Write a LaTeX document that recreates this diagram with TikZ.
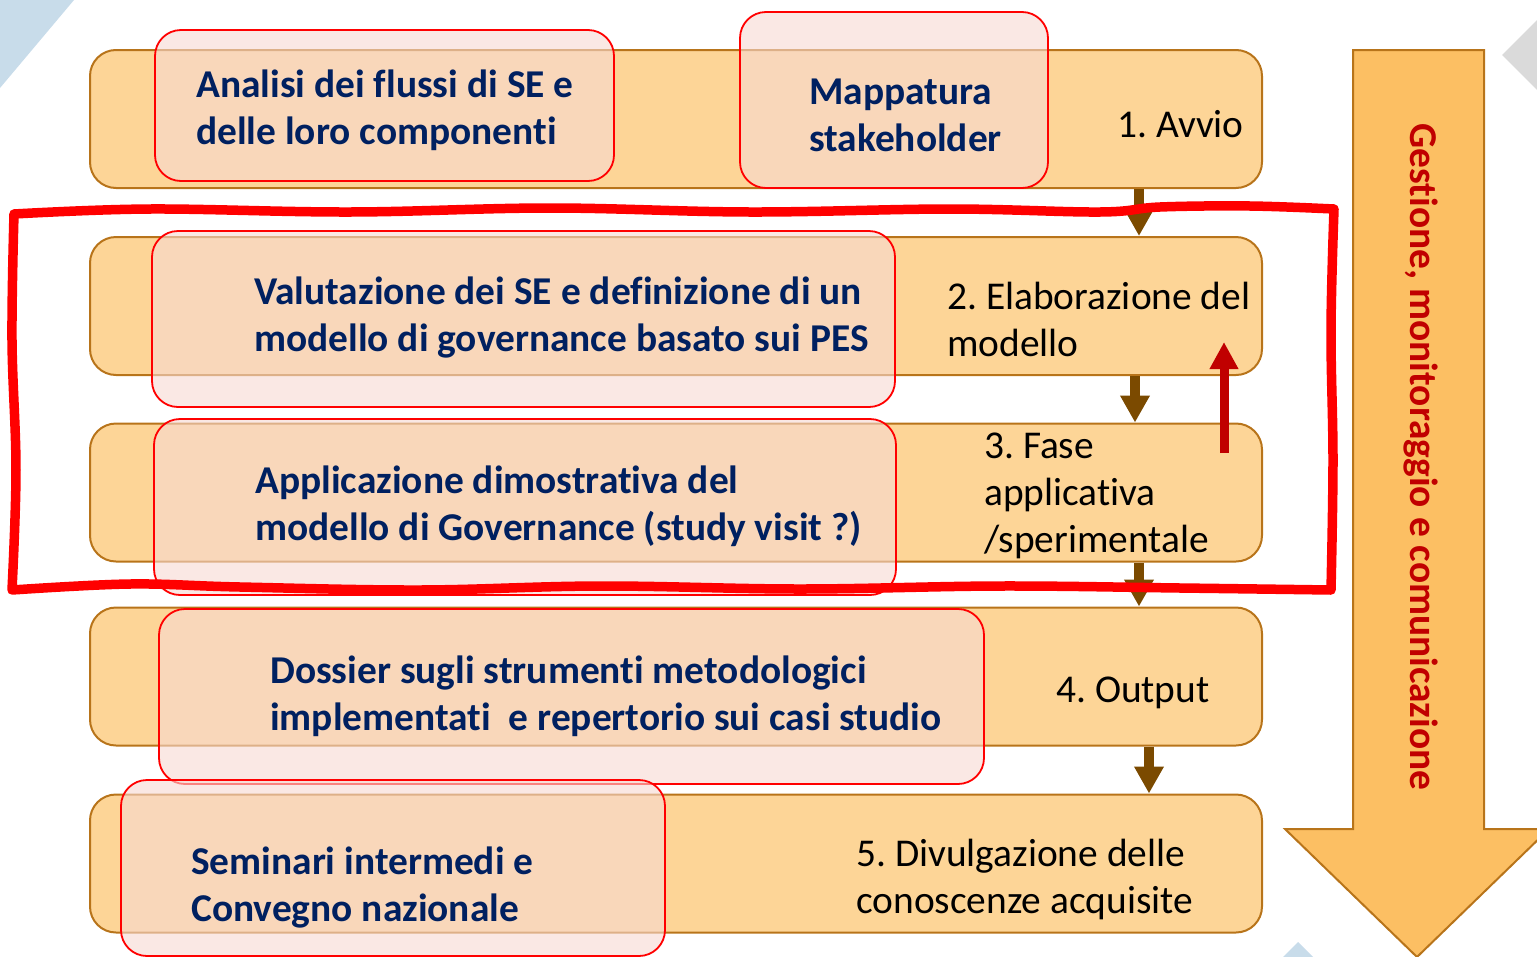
\documentclass[tikz,border=0pt]{standalone}
\usepackage{fontspec}
\setmainfont[Ligatures=NoCommon]{Carlito}
\usetikzlibrary{arrows.meta}
\definecolor{bandfill}{HTML}{FDD597}
\definecolor{banddraw}{HTML}{B8741A}
\definecolor{bigfill}{HTML}{FCBF63}
\definecolor{pinkfill}{HTML}{F7D9D2}
\definecolor{navy}{HTML}{002060}
\definecolor{brownarr}{HTML}{7B4A00}
\definecolor{darkred}{HTML}{C00000}
\definecolor{skyblue}{HTML}{C8DCEA}
\definecolor{lightgrey}{HTML}{DADADA}
\newcommand{\bigtext}{\fontsize{39.4}{47}\selectfont}
\frenchspacing

\begin{document}
\begin{tikzpicture}[x=1pt,y=-1pt,
    band/.style={rectangle,rounded corners=26pt,draw=banddraw,line width=2pt,fill=bandfill,
      minimum width=1172pt,minimum height=138pt,inner sep=0pt},
    pbox/.style={rectangle,rounded corners=26pt,draw=red,line width=1.8pt,fill=pinkfill,
      fill opacity=0.6,inner sep=0pt},
    btxt/.style={font=\bigtext\bfseries,color=navy,align=left,anchor=west,inner sep=0pt},
    stxt/.style={font=\bigtext,color=black,align=left,anchor=west,inner sep=0pt},
    flow/.style={-{Triangle[width=28pt,length=27pt]},brownarr,line width=10pt},
    back/.style={-{Triangle[width=27pt,length=27pt]},darkred,line width=9pt},
    wavy/.style={red,line width=9.5pt,line join=round,line cap=round}]
  \clip (0,0) rectangle (1537,956);
  \fill[skyblue] (0,0) -- (74,0) -- (0,88) -- cycle;
  \fill[lightgrey] (1502,55) -- (1540,17) -- (1540,93) -- cycle;
  \fill[skyblue] (1283,957) -- (1298,942) -- (1313,957) -- cycle;
  \foreach \nm/\y in {avvio/119, elab/306, fase/492.5, output/676.5, divulg/863.5} {
    \node[band] (\nm) at (676,\y) {};
  }
  \foreach \a/\b/\x in {avvio/elab/1139, elab/fase/1135, fase/output/1139, output/divulg/1149} {
    \coordinate (c\a) at (\x,0);
    \draw[flow] (\a.south -| c\a) -- (\b.north -| c\a);
  }
  \foreach \nm/\x/\y/\w/\h in {analisi/384.5/105.5/459/151, mappa/894/100/308/176,
      valuta/523.5/319/743/176, applica/525/507/742/176,
      dossier/571.5/696.5/825/175, seminari/393/868/544/176} {
    \node[pbox,minimum width=\w pt,minimum height=\h pt] (\nm) at (\x,\y) {};
  }
  \node[btxt] (tanalisi) at (196,110) {Analisi dei flussi di SE e\\delle loro componenti};
  \node[btxt] (tmappa) at (809,115) {Mappatura\\stakeholder};
  \node[btxt] (tvaluta) at (254,318) {Valutazione dei SE e definizione di un\\modello di governance basato sui PES};
  \node[btxt] (tapplica) at (255,506) {Applicazione dimostrativa del\\modello di Governance (study visit ?)};
  \node[btxt] (tdossier) at (270,696) {Dossier sugli strumenti metodologici\\implementati~ e repertorio sui casi studio};
  \node[btxt] (tseminari) at (191,888) {Seminari intermedi e\\Convegno nazionale};
  \node[stxt] (lavvio) at (1117,124) {1. Avvio};
  \node[stxt] (lelab) at (947,319) {2. Elaborazione del\\modello};
  \node[stxt] (lfase) at (984,496) {3. Fase\\applicativa\\/sperimentale};
  \node[stxt] (loutput) at (1056,693) {4. Output};
  \node[stxt] (ldivulg) at (856,879) {5. Divulgazione delle\\conoscenze acquisite};
  \coordinate (rtail) at (1224,453);
  \coordinate (rtip) at (1224,342);
  \draw[back] (rtail) -- (rtip);
  \draw[draw=banddraw,fill=bigfill,line width=2pt] (1353,50) -- (1484,50) -- (1484,829)
       -- (1549,829) -- (1417,957) -- (1285,829) -- (1353,829) -- cycle;
  \node[font=\bigtext\bfseries,color=darkred,rotate=-90,inner sep=0pt] (gestione) at (1421,457)
       {Gestione, monitoraggio e comunicazione};
  \draw[wavy] plot[smooth,tension=0.6] coordinates {(14,214) (150,209) (350,212) (550,208) (750,212)
       (950,209) (1100,212) (1160,207) (1250,206) (1334,209)}
    -- plot[smooth,tension=0.6] coordinates {(1334,209) (1331,330) (1333,460) (1331,590)}
    -- plot[smooth,tension=0.6] coordinates {(1331,590) (1180,588) (1000,586) (800,589) (600,586)
       (420,590) (240,587) (130,584) (12,590)}
    -- plot[smooth,tension=0.6] coordinates {(12,590) (16,470) (12,340) (14,214)};
\end{tikzpicture}
\end{document}
